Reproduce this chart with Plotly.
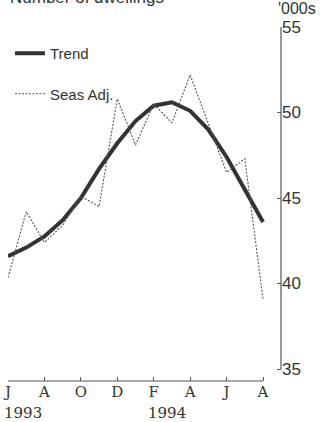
import plotly.graph_objects as go

months = list(range(15))  # Jun 1993 .. Aug 1994
trend = [41.6, 42.1, 42.75, 43.7, 45.0, 46.7, 48.2, 49.5, 50.4, 50.6, 50.1, 49.0, 47.4, 45.5, 43.6]
seas_adj = [40.35, 44.2, 42.4, 43.4, 45.1, 44.5, 50.8, 48.1, 50.5, 49.4, 52.2, 49.4, 46.5, 47.3, 39.1]
x_tickvals = [0, 2, 4, 6, 8, 10, 12, 14]
x_ticktext = ["J", "A", "O", "D", "F", "A", "J", "A"]
y_tickvals = [35, 40, 45, 50, 55]

W, H = 328, 422
L, R, T, B = 8, 47, 27, 41
pw, ph = W - L - R, H - T - B
px_per_month = 255 / 14
x_max = pw / px_per_month
px_per_unit = 342 / 20
y_min = 35 - 12 / px_per_unit

def py(pix):
    return (H - B - pix) / ph

def pxp(pix):
    return (pix - L) / pw

fig = go.Figure()
fig.add_trace(go.Scatter(x=months, y=trend, mode="lines", name="Trend",
                         line=dict(color="#333333", width=4), legendgroup="a"))
fig.add_trace(go.Scatter(x=months, y=seas_adj, mode="lines", name="Seas Adj.",
                         line=dict(color="#555555", width=1.1, dash="2px,1.5px"), legendgroup="b"))

fig.update_layout(
    width=W, height=H,
    margin=dict(l=L, r=R, t=T, b=B, pad=0, autoexpand=False),
    paper_bgcolor="white", plot_bgcolor="white",
    showlegend=True,
    legend=dict(x=pxp(10), y=py(37), xanchor="left", yanchor="top",
                font=dict(family="Liberation Sans, Arial", size=15, color="#333"),
                tracegroupgap=18, bgcolor="rgba(0,0,0,0)", itemwidth=30),
    xaxis=dict(range=[0, x_max], tickvals=x_tickvals, ticktext=x_ticktext,
               ticks="inside", ticklen=4, tickcolor="#555", showline=False,
               showgrid=False, zeroline=False, automargin=False,
               tickfont=dict(family="DejaVu Serif", size=15, color="#333")),
    yaxis=dict(range=[y_min, 55], side="right", tickvals=y_tickvals,
               ticks="inside", ticklen=4, tickcolor="#555", showline=False,
               showgrid=False, zeroline=False, automargin=False,
               tickfont=dict(family="Liberation Sans, Arial", size=17, color="#333")),
    shapes=[
        dict(type="line", xref="x", yref="paper", x0=0, x1=14, y0=0, y1=0,
             line=dict(color="#555", width=1.2)),
        dict(type="line", xref="paper", yref="y", x0=1, x1=1, y0=35, y1=55,
             line=dict(color="#555", width=1.2)),
    ],
    annotations=[
        dict(text="1993", xref="paper", yref="paper", x=pxp(2), y=py(413),
             xanchor="left", yanchor="middle", showarrow=False,
             font=dict(family="DejaVu Serif", size=15, color="#333")),
        dict(text="1994", xref="paper", yref="paper", x=pxp(146), y=py(413),
             xanchor="left", yanchor="middle", showarrow=False,
             font=dict(family="DejaVu Serif", size=15, color="#333")),
        dict(text="'000s", xref="paper", yref="paper", x=1, xshift=-5, y=py(9),
             xanchor="left", yanchor="middle", showarrow=False,
             font=dict(family="Liberation Sans, Arial", size=16, color="#333")),
        dict(text="Number of dwellings", xref="paper", yref="paper", x=0, y=py(9),
             xanchor="left", yanchor="bottom", showarrow=False,
             font=dict(family="Liberation Sans, Arial", size=17, color="#333")),
    ],
)

fig.write_html("out.html", config={"displayModeBar": False},
               post_script="document.body.style.margin='0px';")
